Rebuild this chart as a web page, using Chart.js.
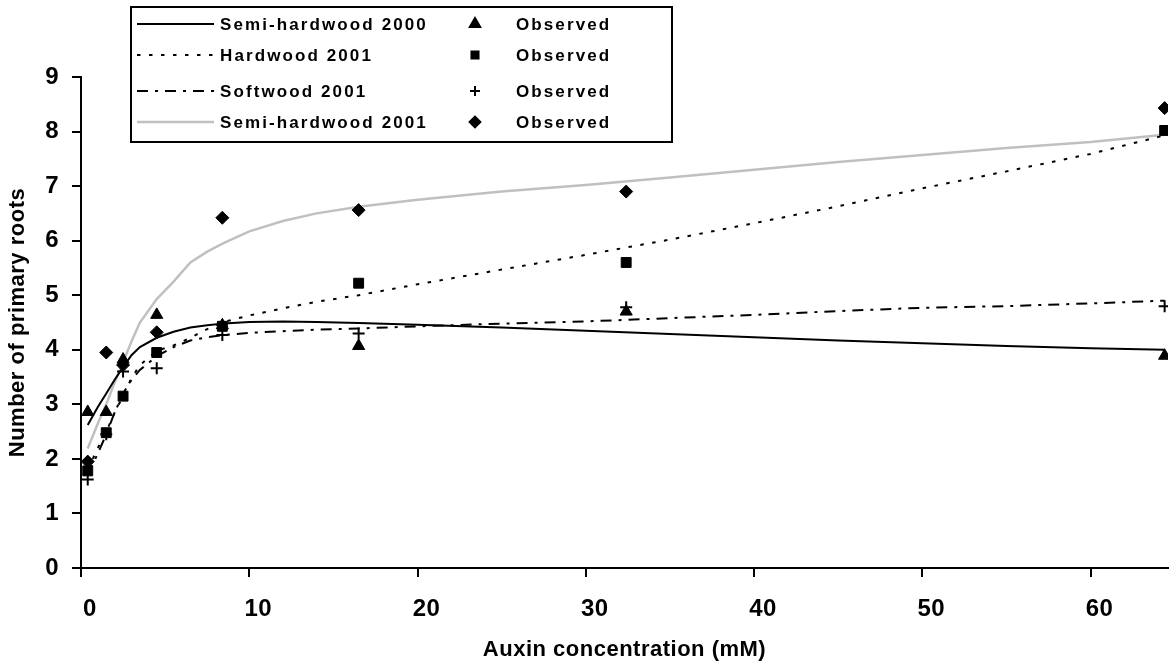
<!DOCTYPE html>
<html>
<head>
<meta charset="utf-8">
<title>Primary roots vs auxin</title>
<script src="https://cdn.jsdelivr.net/npm/chart.js@4.4.1/dist/chart.umd.min.js"></script>
<style>
  html, body { margin: 0; padding: 0; background: #fff; }
  #wrap { width: 1176px; height: 668px; }
</style>
</head>
<body>
<div id="wrap"><canvas id="rootChart" width="1176" height="668"></canvas></div>
<script>
// observed concentrations (mM) and counts
var obsX = [0.4, 1.5, 2.5, 4.5, 8.4, 16.5, 32.4, 64.4];
var semiHard2000Obs = [2.86, 2.86, 3.82, 4.64, 4.45, 4.07, 4.70, 3.89];
var hard2001Obs = [1.78, 2.48, 3.15, 3.95, 4.43, 5.22, 5.60, 8.02];
var soft2001Obs = [1.62, 2.45, 3.60, 3.66, 4.27, 4.30, 4.78, 4.80];
var semiHard2001Obs = [1.95, 3.95, 3.72, 4.32, 6.42, 6.56, 6.90, 8.43];

// fitted response curves
var fitX = [0.4, 1, 1.5, 2, 2.5, 3, 3.5, 4.5, 5.5, 6.5, 7.5, 8.5, 10, 12, 14, 16.5, 20, 25, 30, 35, 40, 45, 50, 55, 60, 64.4];
var semiHard2000Fit = [2.62, 2.95, 3.20, 3.45, 3.68, 3.90, 4.05, 4.22, 4.33, 4.41, 4.45, 4.48, 4.51, 4.52, 4.51, 4.49, 4.46, 4.41, 4.35, 4.29, 4.23, 4.17, 4.12, 4.07, 4.03, 4.00];
var hard2001Fit = [1.80, 2.20, 2.50, 2.85, 3.15, 3.48, 3.72, 3.98, 4.08, 4.22, 4.38, 4.51, 4.63, 4.76, 4.88, 5.00, 5.20, 5.47, 5.74, 6.02, 6.32, 6.63, 6.96, 7.27, 7.59, 7.93];
var soft2001Fit = [1.70, 2.10, 2.45, 2.85, 3.20, 3.45, 3.63, 3.88, 4.05, 4.17, 4.23, 4.27, 4.31, 4.34, 4.37, 4.39, 4.43, 4.48, 4.52, 4.58, 4.64, 4.71, 4.77, 4.80, 4.85, 4.90];
var semiHard2001Fit = [2.19, 2.65, 3.00, 3.40, 3.77, 4.15, 4.50, 4.93, 5.25, 5.60, 5.80, 5.96, 6.17, 6.36, 6.50, 6.62, 6.75, 6.90, 7.02, 7.16, 7.30, 7.44, 7.57, 7.70, 7.81, 7.94];

var seriesNames = ['Semi-hardwood 2000', 'Hardwood 2001', 'Softwood 2001', 'Semi-hardwood 2001'];
var xTicks = [0, 10, 20, 30, 40, 50, 60];
var yTicks = [0, 1, 2, 3, 4, 5, 6, 7, 8, 9];

function toPoints(xs, ys) {
    return xs.map(function (x, i) { return {x: x, y: ys[i]}; });
}

var FONT = "'Liberation Sans', Arial, sans-serif";

function fitLine(name, ys, color, width, dash) {
    return {
        label: name,
        data: toPoints(fitX, ys),
        showLine: true,
        borderColor: color,
        borderWidth: width,
        borderDash: dash,
        pointRadius: 0,
        fill: false,
        tension: 0,
        order: 2
    };
}

function observed(ys, style, radius) {
    return {
        label: 'Observed',
        data: toPoints(obsX, ys),
        showLine: false,
        pointStyle: style,
        pointRadius: radius,
        pointBackgroundColor: '#000',
        pointBorderColor: '#000',
        pointBorderWidth: style === 'cross' ? 2 : 1,
        order: 1
    };
}

var lines = [
    fitLine(seriesNames[0], semiHard2000Fit, '#000', 2, []),
    fitLine(seriesNames[1], hard2001Fit, '#000', 2, [3.5, 8.5]),
    fitLine(seriesNames[2], soft2001Fit, '#000', 2, [11, 7, 3, 7]),
    fitLine(seriesNames[3], semiHard2001Fit, '#c0c0c0', 2.5, [])
];
var marks = [
    observed(semiHard2000Obs, 'triangle', 7),
    observed(hard2001Obs, 'rect', 7),
    observed(soft2001Obs, 'cross', 6),
    observed(semiHard2001Obs, 'rectRot', 6.5)
];

// boxed two-column key drawn over the top of the plot
var boxedKey = {
    id: 'boxedKey',
    afterDraw: function (chart) {
        var ctx = chart.ctx;
        var box = {l: 131, t: 7, r: 672, b: 142};
        var rows = [24, 55, 91, 122];
        ctx.save();
        ctx.fillStyle = '#fff';
        ctx.fillRect(box.l, box.t, box.r - box.l, box.b - box.t);
        ctx.strokeStyle = '#000';
        ctx.lineWidth = 2;
        ctx.strokeRect(box.l, box.t, box.r - box.l, box.b - box.t);
        ctx.font = 'bold 17px ' + FONT;
        ctx.letterSpacing = '2.1px';
        ctx.textBaseline = 'middle';
        for (var i = 0; i < lines.length; i++) {
            var y = rows[i];
            ctx.beginPath();
            ctx.strokeStyle = lines[i].borderColor;
            ctx.lineWidth = lines[i].borderWidth;
            ctx.setLineDash(lines[i].borderDash);
            ctx.moveTo(137, y);
            ctx.lineTo(214, y);
            ctx.stroke();
            ctx.setLineDash([]);
            ctx.fillStyle = '#000';
            ctx.fillText(lines[i].label, 220, y + 1);
            ctx.fillText(marks[i].label, 516, y + 1);
            ctx.strokeStyle = '#000';
            Chart.helpers.drawPoint(ctx, {
                pointStyle: marks[i].pointStyle,
                radius: marks[i].pointStyle === 'triangle' ? 6 : 5,
                borderWidth: marks[i].pointBorderWidth,
                rotation: 0
            }, 475, y);
        }
        ctx.restore();
    }
};

var tickFont = {family: FONT, size: 24, weight: 'bold'};
var titleFont = {family: FONT, size: 22, weight: 'bold'};

// slight tracking on the axis titles
var titleSpacing = {
    id: 'titleSpacing',
    beforeDraw: function (chart) { chart.ctx.letterSpacing = '0.5px'; }
};

var rootChart = new Chart(document.getElementById('rootChart'), {
    type: 'scatter',
    data: {datasets: marks.concat(lines)},
    options: {
        responsive: false,
        animation: false,
        layout: {padding: {top: 77, right: 4, left: 0, bottom: 0}},
        plugins: {
            legend: {display: false},
            tooltip: {enabled: false}
        },
        scales: {
            x: {
                type: 'linear',
                min: 0,
                max: 64.6,
                afterBuildTicks: function (scale) {
                    scale.ticks = xTicks.map(function (v) { return {value: v}; });
                },
                afterFit: function (scale) { scale.height = 100; },
                ticks: {color: '#000', font: tickFont, padding: 18, labelOffset: 9, maxRotation: 0},
                grid: {drawOnChartArea: false, drawTicks: true, tickLength: 9, color: '#000', lineWidth: 2},
                border: {display: true, color: '#000', width: 2},
                title: {display: true, text: 'Auxin concentration (mM)', color: '#000', font: titleFont, padding: {bottom: 5}}
            },
            y: {
                min: 0,
                max: 9,
                afterBuildTicks: function (scale) {
                    scale.ticks = yTicks.map(function (v) { return {value: v}; });
                },
                afterFit: function (scale) { scale.width = 81; },
                ticks: {color: '#000', font: tickFont, padding: 13},
                grid: {drawOnChartArea: false, drawTicks: true, tickLength: 9, color: '#000', lineWidth: 2},
                border: {display: true, color: '#000', width: 2},
                title: {display: true, text: 'Number of primary roots', color: '#000', font: titleFont, padding: {top: 5}}
            }
        }
    },
    plugins: [titleSpacing, boxedKey]
});
</script>
</body>
</html>
